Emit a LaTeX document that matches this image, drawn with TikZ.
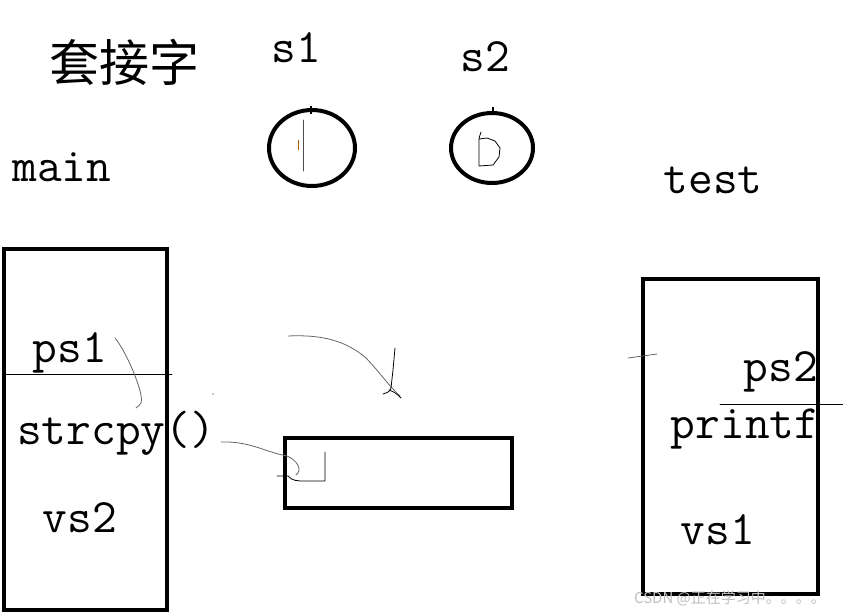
\documentclass[tikz,border=0pt]{standalone}
\usepackage{fontspec}
\newfontfamily\cjk{Noto Sans CJK SC}
\begin{document}
\begin{tikzpicture}[x=1pt,y=-1pt,
  lbl/.style={inner sep=0pt, font=\fontsize{48}{48}\selectfont\ttfamily},
  thick box/.style={draw, line width=4pt},
  pen/.style={line width=0.8pt, line cap=round, line join=round},
  grey pen/.style={pen, draw=black!60}]
\useasboundingbox (0,0) rectangle (843,614);
% titles
\node[inner sep=0pt, font=\fontsize{50}{50}\selectfont\cjk] (title) at (124,62) {套接字};
\node[lbl] (s1) at (296,48) {s1};
\node[lbl] (s2) at (485,57) {s2};
\node[lbl] (main) at (62,167) {main};
\node[lbl] (test) at (713,180) {test};
% circles
\draw[line width=4pt] (312,148) ellipse [x radius=43, y radius=38];
\draw[line width=4pt] (492,148) ellipse [x radius=41, y radius=35];
\draw[pen, draw=black!70] (303,120) -- (303,171);
\draw[line width=0.8pt, draw=orange!70!black] (298,140) -- (298,150);
\draw[line width=1.5pt] (311,106) -- (311,114);
\draw[line width=1.2pt] (493,107) -- (493,113);
\draw[pen] (481,132) -- (479,138) -- (479,166) -- (493,165) -- (499,157) -- (500,148) -- (495,141) -- (487,138) -- (479,139);
% left box
\draw[thick box] (4,249) rectangle (167,610);
\node[lbl] (ps1) at (70,353) {ps1};
\draw[pen] (5,374) -- (172,374);
\draw[grey pen] (115,338) .. controls (125,350) and (138,380) .. (141,395) .. controls (142,403) .. (136,408);
\node[lbl] (strcpy) at (116,433) {strcpy()};
\node[lbl] (vs2) at (80,518) {vs2};
\fill (213,394) circle (0.7);
% middle box
\draw[thick box] (285,438) rectangle (512,508);
\draw[grey pen] (221,442) .. controls (250,441) and (265,452) .. (287,456) .. controls (297,460) and (303,470) .. (296,475);
\draw[pen] (277,476) -- (288,476) .. controls (292,481) and (298,481) .. (305,481) -- (325,481) -- (325,452);
% hand-drawn arrow
\draw[grey pen] (288,336) .. controls (330,334) and (350,345) .. (365,357) .. controls (378,370) and (388,385) .. (400,396);
\draw[pen] (395,348) -- (393,370) -- (391,388) .. controls (389,392) .. (383,394);
\draw[pen] (389,390) .. controls (395,392) and (398,395) .. (401,398);
% right box
\draw[thick box] (643,279) rectangle (818,594);
\draw[grey pen] (628,358) -- (657,354);
\node[lbl] (ps2) at (781,372) {ps2};
\draw[pen] (720,404) -- (843,404);
\node[lbl] (printf) at (745,429) {printf};
\node[lbl] (vs1) at (718,530) {vs1};
% watermark
\node[inner sep=0pt, text=black!25, font=\fontsize{15}{15}\selectfont\cjk] (wm) at (730,598) {CSDN @正在学习中。。。。};
\end{tikzpicture}
\end{document}
